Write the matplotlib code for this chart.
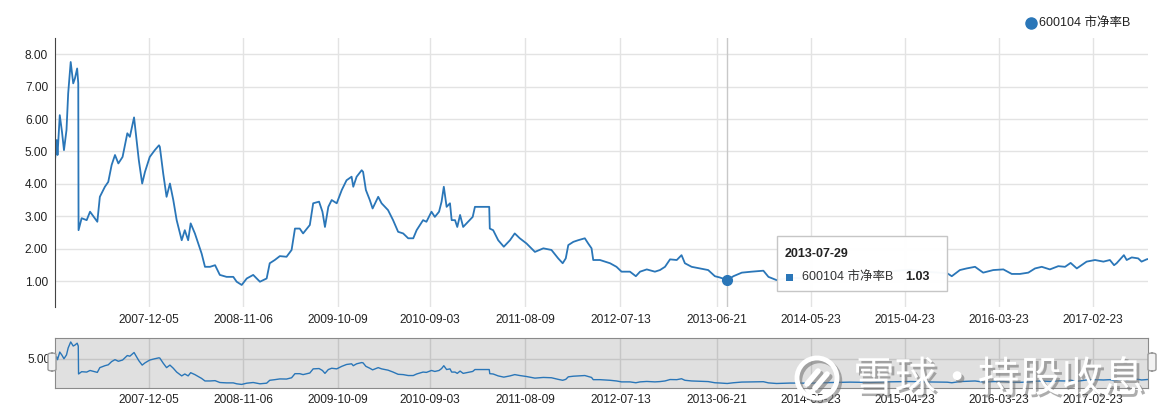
import matplotlib
matplotlib.use('Agg')
import matplotlib.pyplot as plt
import matplotlib.dates as mdates
import matplotlib.patheffects as pe
from matplotlib.patches import Rectangle, FancyBboxPatch, Ellipse
from matplotlib.lines import Line2D
import pandas as pd

plt.rcParams['font.family'] = ['Liberation Sans', 'Noto Sans CJK SC', 'DejaVu Sans']

series_name = '600104 市净率B'

dates = [
    '2007-01-04', '2007-01-10', '2007-01-13', '2007-01-21', '2007-01-29', '2007-02-05',
    '2007-02-14', '2007-02-20', '2007-03-01', '2007-03-10', '2007-03-16', '2007-03-24',
    '2007-03-28', '2007-03-29', '2007-04-09', '2007-04-27', '2007-05-09', '2007-05-26',
    '2007-06-04', '2007-06-13', '2007-07-01', '2007-07-13', '2007-07-25', '2007-08-06',
    '2007-08-18', '2007-09-02', '2007-09-13', '2007-09-19', '2007-09-28', '2007-10-13',
    '2007-10-22', '2007-10-30', '2007-11-11', '2007-11-21', '2007-12-08', '2007-12-26',
    '2008-01-10', '2008-01-13', '2008-01-25', '2008-02-06', '2008-02-18', '2008-03-01',
    '2008-03-13', '2008-03-31', '2008-04-11', '2008-04-23', '2008-05-02', '2008-05-17',
    '2008-05-29', '2008-06-10', '2008-06-22', '2008-07-10', '2008-07-28', '2008-08-14',
    '2008-09-07', '2008-10-01', '2008-10-13', '2008-10-31', '2008-11-18', '2008-12-11',
    '2009-01-04', '2009-01-28', '2009-02-08', '2009-02-26', '2009-03-16', '2009-04-09',
    '2009-04-27', '2009-05-09', '2009-05-26', '2009-06-07', '2009-07-01', '2009-07-13',
    '2009-08-03', '2009-08-15', '2009-08-24', '2009-09-05', '2009-09-17', '2009-10-05',
    '2009-10-23', '2009-11-09', '2009-11-27', '2009-12-03', '2009-12-15', '2010-01-02',
    '2010-01-07', '2010-01-17', '2010-01-31', '2010-02-10', '2010-03-02', '2010-03-14',
    '2010-04-06', '2010-04-24', '2010-05-12', '2010-05-30', '2010-06-17', '2010-07-05',
    '2010-07-17', '2010-08-09', '2010-08-21', '2010-09-08', '2010-09-20', '2010-10-05',
    '2010-10-14', '2010-10-22', '2010-11-01', '2010-11-13', '2010-11-19', '2010-12-01',
    '2010-12-09', '2010-12-19', '2010-12-30', '2011-01-11', '2011-02-02', '2011-02-10',
    '2011-04-02', '2011-04-04', '2011-04-16', '2011-05-04', '2011-05-24', '2011-06-15',
    '2011-07-02', '2011-07-20', '2011-08-13', '2011-09-12', '2011-10-12', '2011-11-10',
    '2011-12-04', '2011-12-20', '2011-12-31', '2012-01-09', '2012-01-27', '2012-02-13',
    '2012-03-08', '2012-03-20', '2012-04-01', '2012-04-07', '2012-05-01', '2012-06-06',
    '2012-06-29', '2012-07-17', '2012-08-16', '2012-09-06', '2012-09-21', '2012-10-15',
    '2012-11-13', '2012-12-01', '2012-12-19', '2013-01-06', '2013-01-30', '2013-02-16',
    '2013-02-28', '2013-03-24', '2013-04-23', '2013-05-22', '2013-06-15', '2013-07-03',
    '2013-07-29', '2013-08-20', '2013-09-19', '2013-10-24', '2013-12-05', '2013-12-23',
    '2014-01-21', '2014-03-11', '2014-05-20', '2014-07-31', '2014-10-10', '2014-12-21',
    '2015-03-02', '2015-05-12', '2015-07-23', '2015-09-22', '2015-10-08', '2015-11-06',
    '2015-11-30', '2015-12-30', '2016-01-28', '2016-03-04', '2016-04-09', '2016-05-09',
    '2016-06-07', '2016-07-07', '2016-07-31', '2016-08-24', '2016-09-22', '2016-10-22',
    '2016-11-15', '2016-12-05', '2016-12-27', '2017-01-31', '2017-03-02', '2017-04-01',
    '2017-04-24', '2017-05-09', '2017-05-18', '2017-06-13', '2017-06-23', '2017-07-11',
    '2017-08-03', '2017-08-15', '2017-09-02', '2017-09-07',
]

pb = [
    4.73, 5.35, 4.89, 6.12, 5.60, 5.04,
    5.66, 6.79, 7.76, 7.10, 7.25, 7.56,
    7.10, 2.57, 2.94, 2.88, 3.14, 2.94,
    2.83, 3.60, 3.91, 4.06, 4.58, 4.89,
    4.63, 4.83, 5.30, 5.56, 5.45, 6.05,
    5.35, 4.73, 4.01, 4.37, 4.83, 5.04,
    5.19, 5.14, 4.32, 3.60, 4.01, 3.50,
    2.88, 2.26, 2.57, 2.26, 2.78, 2.47,
    2.16, 1.85, 1.44, 1.44, 1.49, 1.19,
    1.13, 1.13, 0.98, 0.88, 1.08, 1.19,
    0.98, 1.08, 1.55, 1.65, 1.77, 1.75,
    1.96, 2.62, 2.62, 2.47, 2.73, 3.40,
    3.45, 3.14, 2.67, 3.29, 3.50, 3.40,
    3.81, 4.11, 4.22, 3.91, 4.22, 4.42,
    4.37, 3.81, 3.50, 3.24, 3.60, 3.40,
    3.19, 2.88, 2.52, 2.47, 2.32, 2.32,
    2.57, 2.88, 2.83, 3.14, 2.98, 3.14,
    3.45, 3.91, 3.29, 3.40, 2.88, 2.88,
    2.67, 3.04, 2.67, 2.78, 2.98, 3.29,
    3.29, 2.62, 2.57, 2.26, 2.06, 2.26,
    2.47, 2.32, 2.16, 1.90, 2.01, 1.96,
    1.70, 1.55, 1.70, 2.11, 2.21, 2.26,
    2.32, 2.16, 2.01, 1.65, 1.65, 1.55,
    1.44, 1.29, 1.29, 1.15, 1.29, 1.36,
    1.29, 1.34, 1.44, 1.67, 1.65, 1.80,
    1.55, 1.44, 1.39, 1.34, 1.15, 1.11,
    1.03, 1.15, 1.26, 1.29, 1.32, 1.13,
    1.03, 1.10, 1.08, 1.18, 1.25, 1.20,
    1.30, 1.35, 1.28, 1.24, 1.15, 1.34,
    1.39, 1.44, 1.26, 1.34, 1.36, 1.22,
    1.22, 1.26, 1.39, 1.44, 1.36, 1.46,
    1.44, 1.56, 1.39, 1.60, 1.65, 1.60,
    1.65, 1.49, 1.55, 1.80, 1.65, 1.73,
    1.70, 1.60, 1.67, 1.68,
]

tick_dates = ['2007-12-05', '2008-11-06', '2009-10-09', '2010-09-03', '2011-08-09',
              '2012-07-13', '2013-06-21', '2014-05-23', '2015-04-23', '2016-03-23',
              '2017-02-23']
y_ticks = [1, 2, 3, 4, 5, 6, 7, 8]
hover_date = '2013-07-29'
hover_value = 1.03
watermark = '雪球·持股收息'

x = pd.to_datetime(dates)
xt = pd.to_datetime(tick_dates)
hx = pd.to_datetime(hover_date)

blue = '#2a76b8'
W, H = 1174, 417


def fx(px):
    return px / W


def fy(py):
    return 1 - py / H


fig = plt.figure(figsize=(W / 100, H / 100), dpi=100)

# main chart
ax = fig.add_axes([fx(55), fy(307), fx(1148) - fx(55), fy(38) - fy(307)])
ax.plot(x, pb, color=blue, lw=1.3, solid_joinstyle='round')
ax.set_xlim(x[0], x[-1])
ax.set_ylim(0.2, 8.5)
ax.set_yticks(y_ticks)
ax.set_yticklabels(['%.2f' % v for v in y_ticks])
ax.set_xticks(xt)
ax.xaxis.set_major_formatter(mdates.DateFormatter('%Y-%m-%d'))
ax.grid(True, color='#e3e3e3', lw=1)
ax.set_axisbelow(True)
for s in ['top', 'right', 'bottom']:
    ax.spines[s].set_visible(False)
ax.spines['left'].set_color('#444444')
ax.tick_params(axis='both', length=0, labelsize=8.6, colors='#222222')
ax.tick_params(axis='y', pad=5)
ax.tick_params(axis='x', pad=5)
ax.axvline(hx, color='#c8c8c8', lw=1, zorder=1)
ax.plot([hx], [hover_value], 'o', color=blue, ms=7, zorder=5)

# navigator
nav = fig.add_axes([fx(55), fy(388), fx(1148) - fx(55), fy(338) - fy(388)])
nav.set_facecolor('#e0e0e0')
nav.plot(x, pb, color=blue, lw=1.0)
nav.set_xlim(x[0], x[-1])
nav.set_ylim(0.3, 8.4)
nav.set_yticks([5])
nav.set_yticklabels(['5.00'])
nav.set_xticks(xt)
nav.xaxis.set_major_formatter(mdates.DateFormatter('%Y-%m-%d'))
nav.grid(True, color='#c6c6c6', lw=1)
nav.set_axisbelow(True)
for s in nav.spines.values():
    s.set_color('#8a8a8a')
nav.tick_params(axis='both', length=0, labelsize=8.6, colors='#222222')
nav.tick_params(axis='y', pad=3)
nav.tick_params(axis='x', pad=4)

for hx0 in (48, 1148):
    fig.add_artist(FancyBboxPatch((fx(hx0), fy(371)), fx(8), fy(353) - fy(371),
                                  boxstyle='round,pad=0,rounding_size=0.004',
                                  transform=fig.transFigure, facecolor='#f2f2f2',
                                  edgecolor='#999999', lw=1, zorder=10))

# legend
fig.add_artist(Line2D([fx(1031)], [fy(23)], marker='o', ms=8, color=blue,
                      transform=fig.transFigure))
fig.text(fx(1039), fy(23), series_name, fontsize=9, va='center', ha='left',
         color='#222222')

# tooltip
fig.add_artist(Rectangle((fx(777), fy(291)), fx(947) - fx(777), fy(236) - fy(291),
                         transform=fig.transFigure, facecolor='white',
                         edgecolor='#c4c4c4', lw=1, zorder=20, alpha=0.97))
fig.text(fx(785), fy(254), hover_date, fontsize=9, fontweight='bold', va='center',
         color='#222222', zorder=21)
fig.add_artist(Rectangle((fx(786), fy(281)), fx(7), fy(274) - fy(281),
                         transform=fig.transFigure, facecolor=blue, lw=0, zorder=21))
fig.text(fx(802), fy(277), series_name, fontsize=9, va='center', color='#333333',
         zorder=21)
fig.text(fx(905), fy(277), '%.2f' % hover_value, fontsize=9, fontweight='bold',
         va='center', color='#222222', zorder=21)

# watermark
shadow = [pe.SimplePatchShadow(offset=(2, -2), shadow_rgbFace='#777777', alpha=0.6),
          pe.Normal()]
line_shadow = [pe.SimpleLineShadow(offset=(2, -2), shadow_color='#777777', alpha=0.6),
               pe.Normal()]
fig.text(fx(853), fy(380), watermark, fontsize=30, color='white', va='center',
         ha='left', family=['Noto Sans CJK SC'], path_effects=shadow, zorder=30)
ring = Ellipse((fx(817), fy(378)), 40 / W, 40 / H, transform=fig.transFigure,
               fill=False, edgecolor='white', lw=3.5, zorder=30)
ring.set_path_effects(line_shadow)
fig.add_artist(ring)
for x0, y0, x1, y1 in [(807, 384, 818, 371), (815, 388, 827, 374)]:
    ln = Line2D([fx(x0), fx(x1)], [fy(y0), fy(y1)], transform=fig.transFigure,
                color='white', lw=4, solid_capstyle='round', zorder=30)
    ln.set_path_effects(line_shadow)
    fig.add_artist(ln)

fig.savefig('out.png', dpi=100)
